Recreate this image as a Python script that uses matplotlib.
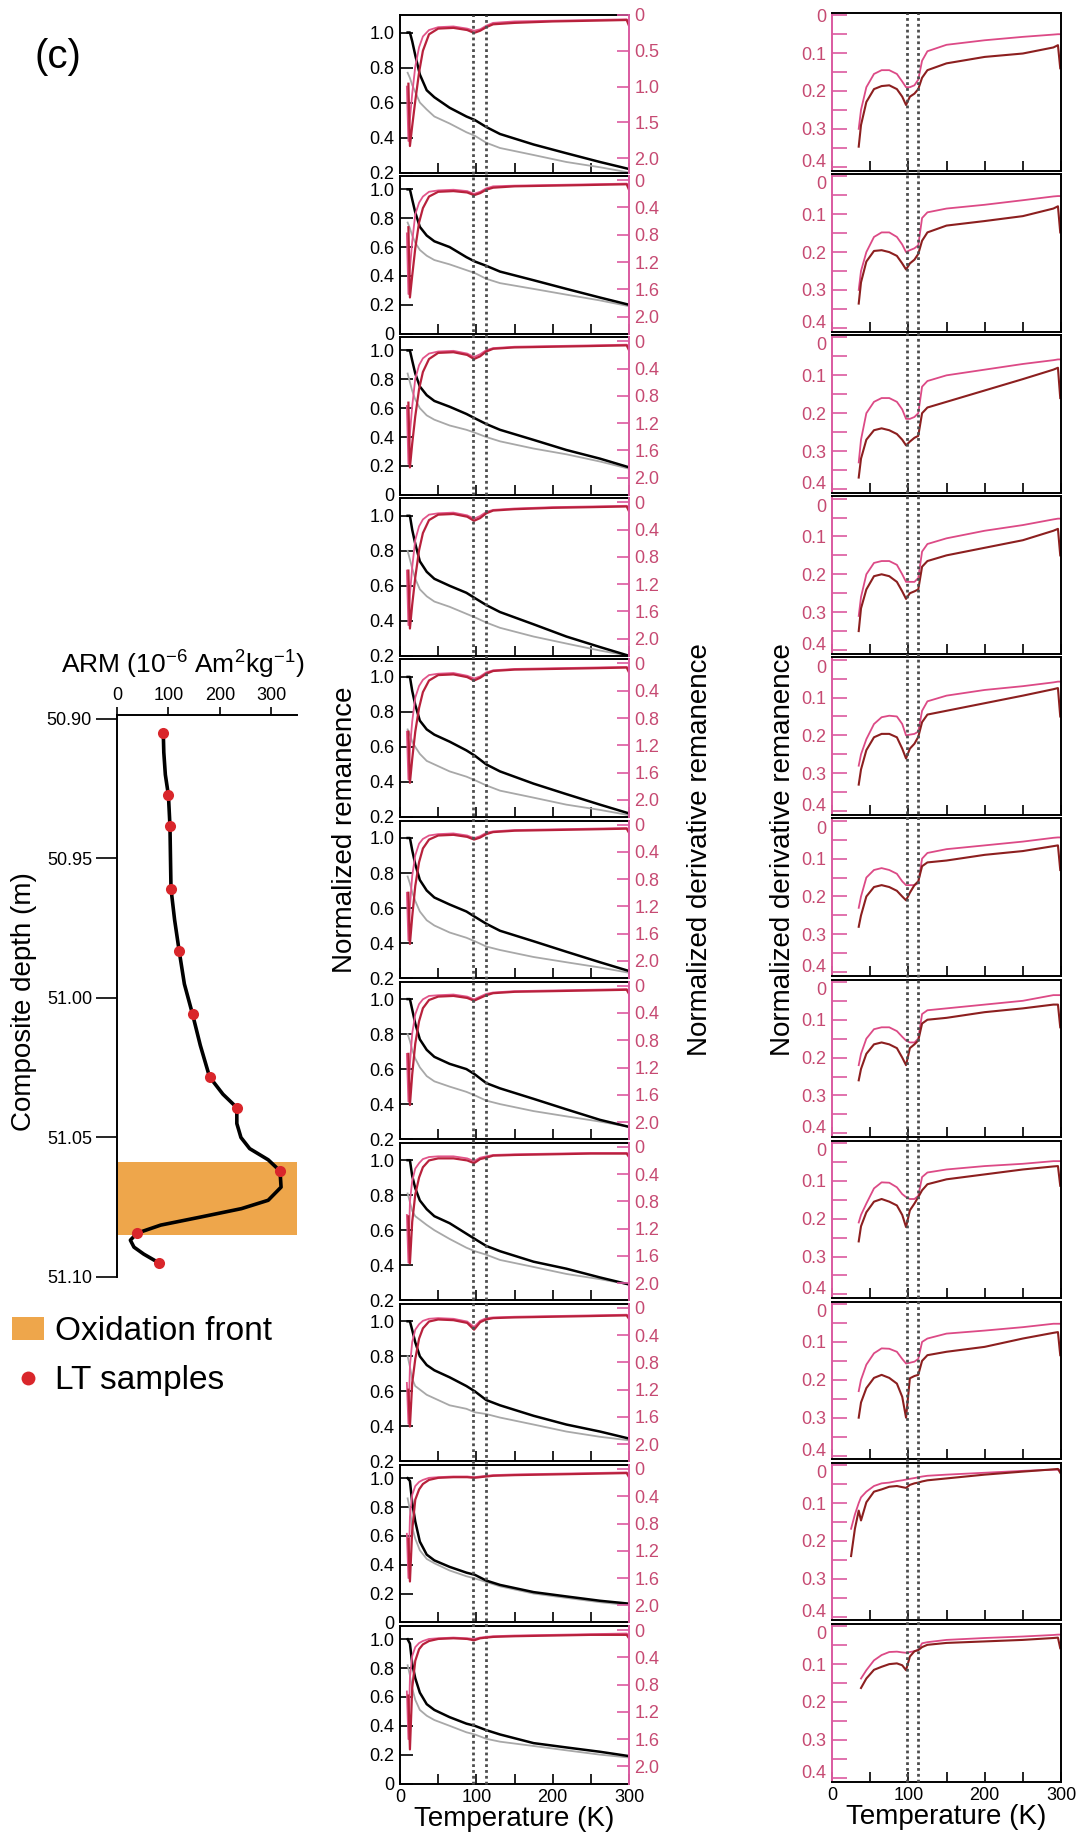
import numpy as np
import matplotlib
matplotlib.use("Agg")
import matplotlib.pyplot as plt
from matplotlib.patches import Patch
from matplotlib.lines import Line2D

plt.rcParams['font.family'] = ['Liberation Sans', 'DejaVu Sans']
plt.rcParams['mathtext.fontset'] = 'custom'
plt.rcParams['mathtext.rm'] = 'Liberation Sans'
plt.rcParams['mathtext.default'] = 'regular'

nan = np.nan

# ---------------- ARM profile (left) ----------------
arm_samples = [90, 100, 103, 105, 121, 147, 180, 233, 317, 39, 82]
depth_samples = [50.9051, 50.9274, 50.9385, 50.9609, 50.9833, 51.0059, 51.0283,
                 51.0393, 51.062, 51.0843, 51.095]
arm_curve = [90, 91, 94, 100, 103, 104, 105, 112, 121, 131, 147, 162, 180, 206, 233,
             233, 241, 258, 294, 317, 319, 294, 242, 163, 85, 39, 26, 33, 52, 82]
depth_curve = [50.9051, 50.912, 50.920, 50.9274, 50.9385, 50.950, 50.9609, 50.972,
               50.9833, 50.995, 51.0059, 51.017, 51.0283, 51.0345, 51.0393, 51.045,
               51.050, 51.054, 51.058, 51.062, 51.0678, 51.0725, 51.0755, 51.0785,
               51.0814, 51.0843, 51.0868, 51.0893, 51.0918, 51.095]
front_top, front_bottom = 51.0588, 51.085

# ---------------- middle column: remanence + derivative ----------------
T_rem = [10, 13, 16, 20, 26, 35, 45, 65, 87, 98, 113, 131, 175, 218, 262, 300]
rem_black = [
    [1.0, 1.0, 0.95, 0.87, 0.76, 0.67, 0.63, 0.57, 0.52, 0.50, 0.46, 0.42, 0.36, 0.31, 0.26, 0.22],
    [1.0, 1.0, 0.93, 0.84, 0.74, 0.68, 0.64, 0.60, 0.53, 0.50, 0.47, 0.43, 0.37, 0.31, 0.25, 0.20],
    [1.0, 1.0, 0.93, 0.84, 0.75, 0.69, 0.65, 0.61, 0.56, 0.53, 0.49, 0.45, 0.38, 0.31, 0.25, 0.19],
    [1.0, 1.0, 0.92, 0.84, 0.74, 0.68, 0.64, 0.60, 0.56, 0.53, 0.49, 0.45, 0.38, 0.31, 0.25, 0.20],
    [1.0, 1.0, 0.92, 0.84, 0.75, 0.70, 0.67, 0.63, 0.58, 0.55, 0.50, 0.46, 0.39, 0.33, 0.27, 0.22],
    [1.0, 1.0, 0.93, 0.85, 0.76, 0.70, 0.66, 0.62, 0.58, 0.55, 0.51, 0.47, 0.41, 0.35, 0.29, 0.24],
    [1.0, 1.0, 0.94, 0.86, 0.77, 0.71, 0.67, 0.63, 0.60, 0.57, 0.52, 0.49, 0.43, 0.37, 0.31, 0.27],
    [1.0, 1.0, 0.91, 0.84, 0.77, 0.72, 0.68, 0.64, 0.58, 0.55, 0.51, 0.48, 0.42, 0.38, 0.33, 0.29],
    [1.0, 1.0, 0.95, 0.88, 0.80, 0.75, 0.72, 0.68, 0.63, 0.60, 0.55, 0.52, 0.46, 0.41, 0.37, 0.33],
    [1.0, 0.98, 0.83, 0.70, 0.56, 0.47, 0.43, 0.385, 0.345, 0.33, 0.29, 0.26, 0.21, 0.18, 0.15, 0.13],
    [1.0, 0.97, 0.83, 0.73, 0.63, 0.55, 0.51, 0.46, 0.415, 0.40, 0.37, 0.34, 0.28, 0.25, 0.22, 0.19],
]
rem_grey = [
    [0.77, 0.74, 0.70, 0.66, 0.60, 0.56, 0.52, 0.48, 0.43, 0.41, 0.37, 0.34, 0.30, 0.26, 0.23, 0.20],
    [0.77, 0.73, 0.68, 0.63, 0.58, 0.54, 0.51, 0.48, 0.44, 0.42, 0.38, 0.35, 0.31, 0.27, 0.23, 0.19],
    [0.84, 0.78, 0.72, 0.66, 0.60, 0.55, 0.52, 0.48, 0.45, 0.43, 0.40, 0.37, 0.32, 0.28, 0.23, 0.18],
    [0.80, 0.75, 0.70, 0.64, 0.58, 0.54, 0.51, 0.48, 0.44, 0.42, 0.39, 0.36, 0.31, 0.27, 0.23, 0.20],
    [0.70, 0.67, 0.63, 0.60, 0.56, 0.52, 0.50, 0.46, 0.43, 0.41, 0.38, 0.35, 0.31, 0.27, 0.24, 0.21],
    [0.78, 0.74, 0.69, 0.64, 0.58, 0.53, 0.50, 0.46, 0.43, 0.41, 0.38, 0.36, 0.32, 0.29, 0.26, 0.23],
    [0.80, 0.76, 0.71, 0.66, 0.61, 0.56, 0.53, 0.50, 0.47, 0.45, 0.42, 0.40, 0.36, 0.33, 0.30, 0.27],
    [0.81, 0.76, 0.71, 0.68, 0.66, 0.63, 0.60, 0.55, 0.50, 0.48, 0.46, 0.43, 0.39, 0.35, 0.32, 0.29],
    [0.80, 0.74, 0.67, 0.63, 0.61, 0.58, 0.56, 0.52, 0.50, 0.48, 0.47, 0.45, 0.41, 0.37, 0.34, 0.32],
    [0.86, 0.78, 0.66, 0.58, 0.50, 0.44, 0.41, 0.36, 0.32, 0.305, 0.28, 0.25, 0.20, 0.17, 0.14, 0.12],
    [0.82, 0.75, 0.66, 0.58, 0.51, 0.47, 0.44, 0.40, 0.355, 0.34, 0.31, 0.29, 0.26, 0.23, 0.20, 0.18],
]
rem_bottom = [0.2, 0, 0, 0.2, 0.2, 0.2, 0.2, 0.2, 0.2, 0, 0]

T_der = [9, 11, 13, 16, 20, 25, 30, 38, 50, 70, 88, 97, 105, 113, 122, 150, 200, 250, 297, 300]
der_red = [
    [nan, 0.96, 1.83, 1.55, 1.20, 0.80, 0.50, 0.27, 0.19, 0.18, 0.21, 0.25, 0.22, 0.17, 0.13, 0.11, 0.09, 0.08, 0.07, 0.15],
    [nan, 0.69, 1.72, 1.40, 1.00, 0.62, 0.41, 0.24, 0.17, 0.16, 0.18, 0.22, 0.19, 0.14, 0.11, 0.09, 0.08, 0.07, 0.06, 0.14],
    [nan, 0.90, 1.85, 1.50, 1.10, 0.70, 0.45, 0.26, 0.17, 0.16, 0.20, 0.26, 0.22, 0.15, 0.11, 0.09, 0.08, 0.07, 0.06, 0.13],
    [nan, 1.00, 1.85, 1.50, 1.10, 0.70, 0.45, 0.26, 0.18, 0.17, 0.21, 0.27, 0.23, 0.16, 0.12, 0.10, 0.08, 0.07, 0.06, 0.13],
    [nan, 1.00, 1.75, 1.40, 1.00, 0.65, 0.42, 0.25, 0.17, 0.16, 0.20, 0.25, 0.21, 0.15, 0.11, 0.09, 0.08, 0.07, 0.06, 0.13],
    [nan, 1.00, 1.75, 1.35, 0.90, 0.55, 0.35, 0.22, 0.16, 0.15, 0.18, 0.22, 0.19, 0.14, 0.11, 0.09, 0.08, 0.07, 0.06, 0.12],
    [nan, 1.00, 1.75, 1.30, 0.85, 0.52, 0.33, 0.21, 0.16, 0.15, 0.18, 0.22, 0.18, 0.14, 0.11, 0.09, 0.08, 0.07, 0.06, 0.12],
    [nan, 1.02, 1.71, 1.10, 0.70, 0.45, 0.30, 0.20, 0.17, 0.17, 0.20, 0.24, 0.18, 0.16, 0.13, 0.12, 0.11, 0.10, 0.10, 0.15],
    [nan, 1.20, 1.74, 1.10, 0.75, 0.45, 0.30, 0.20, 0.17, 0.18, 0.22, 0.32, 0.21, 0.17, 0.15, 0.14, 0.13, 0.12, 0.11, 0.16],
    [nan, 1.02, 1.65, 0.90, 0.45, 0.30, 0.22, 0.16, 0.13, 0.12, 0.12, 0.13, 0.12, 0.11, 0.10, 0.09, 0.08, 0.07, 0.06, 0.12],
    [nan, 0.96, 1.75, 0.85, 0.45, 0.28, 0.21, 0.16, 0.13, 0.12, 0.13, 0.15, 0.12, 0.11, 0.10, 0.09, 0.08, 0.07, 0.07, 0.12],
]
der_pink = [
    [1.00, 1.76, 1.45, 1.10, 0.72, 0.45, 0.30, 0.21, 0.17, 0.16, 0.19, 0.22, 0.20, 0.15, 0.11, 0.09, 0.08, 0.07, 0.06, 0.09],
    [0.78, 1.67, 1.30, 0.90, 0.50, 0.33, 0.24, 0.17, 0.15, 0.14, 0.16, 0.20, 0.17, 0.12, 0.09, 0.08, 0.07, 0.06, 0.05, 0.08],
    [0.95, 1.80, 1.35, 0.95, 0.55, 0.35, 0.25, 0.18, 0.15, 0.14, 0.18, 0.23, 0.19, 0.13, 0.10, 0.08, 0.07, 0.06, 0.05, 0.08],
    [1.00, 1.80, 1.35, 0.95, 0.55, 0.35, 0.25, 0.18, 0.16, 0.15, 0.19, 0.24, 0.20, 0.14, 0.11, 0.09, 0.07, 0.06, 0.05, 0.08],
    [1.00, 1.70, 1.25, 0.85, 0.50, 0.33, 0.24, 0.17, 0.15, 0.14, 0.18, 0.22, 0.19, 0.13, 0.10, 0.08, 0.07, 0.06, 0.05, 0.08],
    [1.00, 1.70, 1.20, 0.75, 0.45, 0.28, 0.21, 0.16, 0.14, 0.13, 0.16, 0.20, 0.17, 0.12, 0.10, 0.08, 0.07, 0.06, 0.05, 0.08],
    [1.00, 1.70, 1.15, 0.70, 0.42, 0.27, 0.20, 0.15, 0.14, 0.13, 0.16, 0.20, 0.16, 0.12, 0.10, 0.08, 0.07, 0.06, 0.05, 0.08],
    [1.00, 1.70, 0.80, 0.50, 0.32, 0.24, 0.18, 0.15, 0.14, 0.14, 0.17, 0.21, 0.16, 0.14, 0.12, 0.11, 0.10, 0.09, 0.09, 0.11],
    [1.10, 1.70, 0.85, 0.50, 0.32, 0.24, 0.19, 0.16, 0.15, 0.16, 0.20, 0.28, 0.19, 0.15, 0.14, 0.13, 0.12, 0.11, 0.10, 0.12],
    [0.95, 1.60, 0.70, 0.38, 0.25, 0.19, 0.16, 0.13, 0.12, 0.11, 0.11, 0.12, 0.11, 0.10, 0.09, 0.08, 0.07, 0.06, 0.05, 0.08],
    [0.90, 1.60, 0.70, 0.38, 0.25, 0.19, 0.16, 0.13, 0.12, 0.11, 0.12, 0.13, 0.11, 0.10, 0.09, 0.08, 0.07, 0.06, 0.05, 0.08],
]
der_ticks_first = [0, 0.5, 1.0, 1.5, 2.0]
der_ticks = [0, 0.4, 0.8, 1.2, 1.6, 2.0]

# ---------------- right column: derivative curves ----------------
T_rc = [25, 30, 35, 38, 45, 55, 65, 75, 85, 92, 97, 102, 108, 113, 118, 125, 150, 200, 250, 290, 296, 299]
rc_pink = [
    [nan, nan, 0.30, 0.25, 0.19, 0.155, 0.145, 0.145, 0.155, 0.175, 0.19, 0.19, 0.185, 0.17, 0.12, 0.095, 0.078, 0.066, 0.057, 0.051, 0.050, 0.050],
    [nan, nan, 0.30, 0.25, 0.20, 0.16, 0.148, 0.148, 0.16, 0.18, 0.20, 0.195, 0.19, 0.182, 0.11, 0.095, 0.085, 0.075, 0.063, 0.053, 0.052, 0.052],
    [nan, nan, 0.33, 0.27, 0.20, 0.17, 0.16, 0.16, 0.17, 0.19, 0.215, 0.215, 0.21, 0.20, 0.13, 0.115, 0.10, 0.085, 0.07, 0.06, 0.058, 0.058],
    [nan, nan, 0.31, 0.26, 0.20, 0.17, 0.165, 0.165, 0.175, 0.20, 0.22, 0.22, 0.22, 0.21, 0.14, 0.12, 0.105, 0.085, 0.07, 0.055, 0.053, 0.053],
    [nan, nan, 0.28, 0.25, 0.21, 0.17, 0.152, 0.148, 0.15, 0.17, 0.20, 0.198, 0.196, 0.19, 0.135, 0.11, 0.095, 0.08, 0.07, 0.06, 0.058, 0.058],
    [nan, nan, 0.23, 0.20, 0.15, 0.13, 0.125, 0.13, 0.14, 0.16, 0.17, 0.17, 0.17, 0.165, 0.10, 0.085, 0.075, 0.065, 0.055, 0.045, 0.044, 0.044],
    [nan, nan, 0.22, 0.19, 0.15, 0.125, 0.12, 0.12, 0.13, 0.145, 0.155, 0.16, 0.16, 0.15, 0.085, 0.075, 0.07, 0.06, 0.05, 0.035, 0.035, 0.035],
    [nan, nan, 0.21, 0.19, 0.16, 0.12, 0.104, 0.105, 0.117, 0.135, 0.143, 0.148, 0.148, 0.14, 0.09, 0.078, 0.07, 0.061, 0.055, 0.048, 0.048, 0.048],
    [nan, nan, 0.23, 0.20, 0.16, 0.13, 0.117, 0.118, 0.126, 0.145, 0.157, 0.155, 0.152, 0.145, 0.10, 0.091, 0.078, 0.07, 0.061, 0.052, 0.052, 0.052],
    [0.168, 0.13, 0.10, 0.085, 0.07, 0.055, 0.048, 0.046, 0.042, 0.04, 0.038, 0.036, 0.034, 0.032, 0.03, 0.028, 0.025, 0.02, 0.015, 0.012, 0.012, 0.012],
    [nan, nan, nan, 0.138, 0.116, 0.09, 0.076, 0.068, 0.067, 0.069, 0.07, 0.068, 0.066, 0.062, 0.045, 0.042, 0.036, 0.031, 0.027, 0.023, 0.022, 0.022],
]
rc_red = [
    [nan, nan, 0.347, 0.29, 0.229, 0.195, 0.187, 0.185, 0.195, 0.215, 0.237, 0.215, 0.207, 0.195, 0.165, 0.145, 0.127, 0.11, 0.101, 0.085, 0.079, 0.14],
    [nan, nan, 0.336, 0.28, 0.225, 0.197, 0.195, 0.20, 0.21, 0.23, 0.246, 0.23, 0.22, 0.205, 0.17, 0.148, 0.13, 0.118, 0.105, 0.085, 0.079, 0.148],
    [nan, nan, 0.37, 0.32, 0.27, 0.245, 0.24, 0.245, 0.255, 0.27, 0.285, 0.275, 0.265, 0.26, 0.20, 0.185, 0.17, 0.14, 0.11, 0.085, 0.08, 0.16],
    [nan, nan, 0.35, 0.29, 0.24, 0.205, 0.20, 0.205, 0.22, 0.245, 0.265, 0.25, 0.245, 0.24, 0.18, 0.165, 0.15, 0.13, 0.11, 0.085, 0.08, 0.15],
    [nan, nan, 0.33, 0.29, 0.239, 0.205, 0.196, 0.196, 0.205, 0.235, 0.261, 0.235, 0.222, 0.204, 0.165, 0.145, 0.135, 0.115, 0.095, 0.078, 0.075, 0.15],
    [nan, nan, 0.28, 0.25, 0.20, 0.175, 0.17, 0.175, 0.185, 0.20, 0.21, 0.19, 0.17, 0.16, 0.12, 0.11, 0.105, 0.09, 0.08, 0.067, 0.065, 0.13],
    [nan, nan, 0.26, 0.23, 0.19, 0.165, 0.16, 0.165, 0.175, 0.20, 0.22, 0.175, 0.165, 0.155, 0.11, 0.10, 0.095, 0.08, 0.07, 0.06, 0.06, 0.12],
    [nan, nan, 0.26, 0.22, 0.183, 0.155, 0.148, 0.155, 0.165, 0.19, 0.222, 0.178, 0.16, 0.143, 0.125, 0.109, 0.096, 0.083, 0.07, 0.062, 0.061, 0.113],
    [nan, nan, 0.30, 0.26, 0.222, 0.195, 0.187, 0.195, 0.21, 0.245, 0.30, 0.196, 0.19, 0.187, 0.15, 0.135, 0.126, 0.113, 0.091, 0.076, 0.074, 0.135],
    [0.24, 0.168, 0.12, 0.146, 0.098, 0.07, 0.064, 0.057, 0.055, 0.058, 0.06, 0.052, 0.048, 0.046, 0.043, 0.04, 0.035, 0.025, 0.017, 0.011, 0.01, 0.02],
    [nan, nan, nan, 0.163, 0.138, 0.115, 0.107, 0.10, 0.098, 0.103, 0.116, 0.08, 0.066, 0.063, 0.055, 0.049, 0.044, 0.04, 0.036, 0.031, 0.03, 0.058],
]
rc_ticks = [0, 0.05, 0.1, 0.15, 0.2, 0.25, 0.3, 0.35, 0.4]
rc_ticklabels = ['0', '', '0.1', '', '0.2', '', '0.3', '', '0.4']

verwey_mid = [96, 113]
verwey_rc = [98, 113]

# ---------------- styles / layout ----------------
W, H = 1081, 1838
PINK_SPINE = '#DB5AA0'
PINK_TEXT = '#C64A72'
RED_MID = '#B8213C'
PINK_MID = '#E2558A'
RED_RC = '#8C1F1F'
PINK_RC = '#DC4A86'
ORANGE = '#EEA64B'
DOT_RED = '#D9262B'

n = 11
ph = 157.5
pitch = 161.1
mid_left, rc_left, col_w = 400, 832, 229
mid_top0, rc_top0 = 15, 13

fig = plt.figure(figsize=(W / 100, H / 100), dpi=100)


def frac_rect(left, top, width, height):
    return [left / W, 1 - (top + height) / H, width / W, height / H]


def fmt_tick(v):
    return '0' if v == 0 else '%.1f' % v


# ---- middle column ----
for i in range(n):
    top = mid_top0 + i * pitch
    ax = fig.add_axes(frac_rect(mid_left, top, col_w, ph))
    ax2 = ax.twinx()
    ax.plot(T_rem, rem_grey[i], color='#A8A8A8', lw=1.3, zorder=2)
    ax.plot(T_rem, rem_black[i], color='black', lw=1.8, zorder=3)
    ax2.plot(T_der, der_pink[i], color=PINK_MID, lw=1.3)
    ax2.plot(T_der, der_red[i], color=RED_MID, lw=1.6)
    ax.set_xlim(0, 300)
    ax.set_ylim(rem_bottom[i], 1.1 if rem_bottom[i] else 1.092)
    if i == 0:
        ax2.set_ylim(2.2, 0)
    else:
        ax2.set_ylim(2.25, -0.06)
    yt = [0.2, 0.4, 0.6, 0.8, 1.0] if rem_bottom[i] else [0, 0.2, 0.4, 0.6, 0.8, 1.0]
    ax.set_yticks(yt)
    ax.set_yticklabels([fmt_tick(v) for v in yt])
    dt = der_ticks_first if i == 0 else der_ticks
    ax2.set_yticks(dt)
    ax2.set_yticklabels([fmt_tick(v) for v in dt])
    ax.set_xticks([0, 50, 100, 150, 200, 250, 300])
    for s in ['left', 'top', 'bottom']:
        ax.spines[s].set_linewidth(1.4)
    ax.spines['right'].set_visible(False)
    for s in ['left', 'top', 'bottom']:
        ax2.spines[s].set_visible(False)
    ax2.spines['right'].set_color(PINK_SPINE)
    ax2.spines['right'].set_linewidth(1.4)
    ax.tick_params(axis='y', direction='in', length=9, width=1.2, labelsize=13, pad=4)
    ax.tick_params(axis='x', direction='in', length=7, width=1.2, labelsize=13, pad=4)
    ax2.tick_params(axis='y', direction='in', length=9, width=1.2, labelsize=13, pad=4,
                    color=PINK_SPINE, labelcolor=PINK_TEXT)
    if i < n - 1:
        ax.set_xticklabels([])
    else:
        ax.set_xticklabels(['0', '', '100', '', '200', '', '300'])
        span = (mid_top0 + (n - 1) * pitch + ph - mid_top0) / ph
        for tv in verwey_mid:
            ax.axvline(tv, ymin=0, ymax=span, color='#4D4D4D', lw=2,
                       ls=(0, (1, 1.1)), clip_on=False, zorder=10)
        ax.set_xlabel('Temperature (K)', fontsize=20, labelpad=0)

# ---- right column ----
for i in range(n):
    top = rc_top0 + i * pitch
    ax = fig.add_axes(frac_rect(rc_left, top, col_w, ph))
    ax.plot(T_rc, rc_pink[i], color=PINK_RC, lw=1.3)
    ax.plot(T_rc, rc_red[i], color=RED_RC, lw=1.5)
    ax.set_xlim(0, 300)
    ax.set_ylim(0.41, -0.006)
    ax.set_yticks(rc_ticks)
    ax.set_yticklabels(rc_ticklabels)
    ax.set_xticks([0, 50, 100, 150, 200, 250, 300])
    for s in ['right', 'top', 'bottom']:
        ax.spines[s].set_linewidth(1.4)
    ax.spines['left'].set_color(PINK_SPINE)
    ax.spines['left'].set_linewidth(1.4)
    ax.tick_params(axis='y', direction='in', length=11, width=1.2, labelsize=13, pad=4,
                   color=PINK_SPINE, labelcolor=PINK_TEXT)
    ax.tick_params(axis='x', direction='in', length=7, width=1.2, labelsize=13, pad=4)
    # end labels nudged inside the panel so they don't collide between panels
    yticks = ax.yaxis.get_major_ticks()
    if i > 0:
        yticks[0].label1.set_va('top')
    yticks[-1].label1.set_va('baseline')
    if i < n - 1:
        ax.set_xticklabels([])
    else:
        ax.set_xticklabels(['0', '', '100', '', '200', '', '300'])
        span = (rc_top0 + (n - 1) * pitch + ph - rc_top0) / ph
        for tv in verwey_rc:
            ax.axvline(tv, ymin=0, ymax=span, color='#4D4D4D', lw=2,
                       ls=(0, (1, 1.1)), clip_on=False, zorder=10)
        ax.set_xlabel('Temperature (K)', fontsize=20, labelpad=0)

# ---- ARM panel ----
axA = fig.add_axes(frac_rect(117, 715, 180, 562))
axA.axhspan(front_top, front_bottom, color=ORANGE, lw=0, zorder=1)
axA.plot(arm_curve, depth_curve, color='black', lw=2.6, zorder=2)
axA.plot(arm_samples, depth_samples, 'o', color=DOT_RED, ms=8, mec='none', zorder=3)
axA.set_xlim(0, 350)
axA.set_ylim(51.10, 50.8986)
axA.xaxis.tick_top()
axA.set_xticks([0, 100, 200, 300])
axA.set_yticks([50.90, 50.95, 51.00, 51.05, 51.10])
axA.set_yticklabels(['50.90', '50.95', '51.00', '51.05', '51.10'])
axA.spines['right'].set_visible(False)
axA.spines['bottom'].set_visible(False)
axA.spines['left'].set_linewidth(1.4)
axA.spines['top'].set_linewidth(1.4)
axA.tick_params(axis='x', direction='out', length=6, width=1.2, labelsize=13, pad=2)
axA.tick_params(axis='y', direction='out', length=15, width=1.2, labelsize=13, pad=3)
axA.set_ylabel('Composite depth (m)', fontsize=20)
axA.yaxis.set_label_coords(-0.445, 0.49)

fig.text(183 / W, 1 - 665 / H, 'ARM (10$^{-6}$ Am$^{2}$kg$^{-1}$)', fontsize=19,
         ha='center', va='center')

# ---- legend ----
handles = [Patch(facecolor=ORANGE, edgecolor='none'),
           Line2D([], [], marker='o', ls='', color=DOT_RED, ms=10, mec='none')]
fig.legend(handles, ['Oxidation front', 'LT samples'], loc='upper left',
           bbox_to_anchor=(12 / W, 1 - 1316 / H), frameon=False, fontsize=24,
           borderpad=0, borderaxespad=0, handlelength=0.97, handleheight=0.7,
           handletextpad=0.32, labelspacing=0.55)

# ---- axis titles ----
fig.text(58 / W, 1 - 57 / H, '(c)', fontsize=29, ha='center', va='center')
fig.text(345 / W, 1 - 830 / H, 'Normalized remanence', fontsize=20, rotation=90,
         ha='center', va='center')
fig.text(700 / W, 1 - 850 / H, 'Normalized derivative remanence', fontsize=20,
         rotation=90, ha='center', va='center')
fig.text(783 / W, 1 - 850 / H, 'Normalized derivative remanence', fontsize=20,
         rotation=90, ha='center', va='center')

fig.savefig('out.png', dpi=100)
